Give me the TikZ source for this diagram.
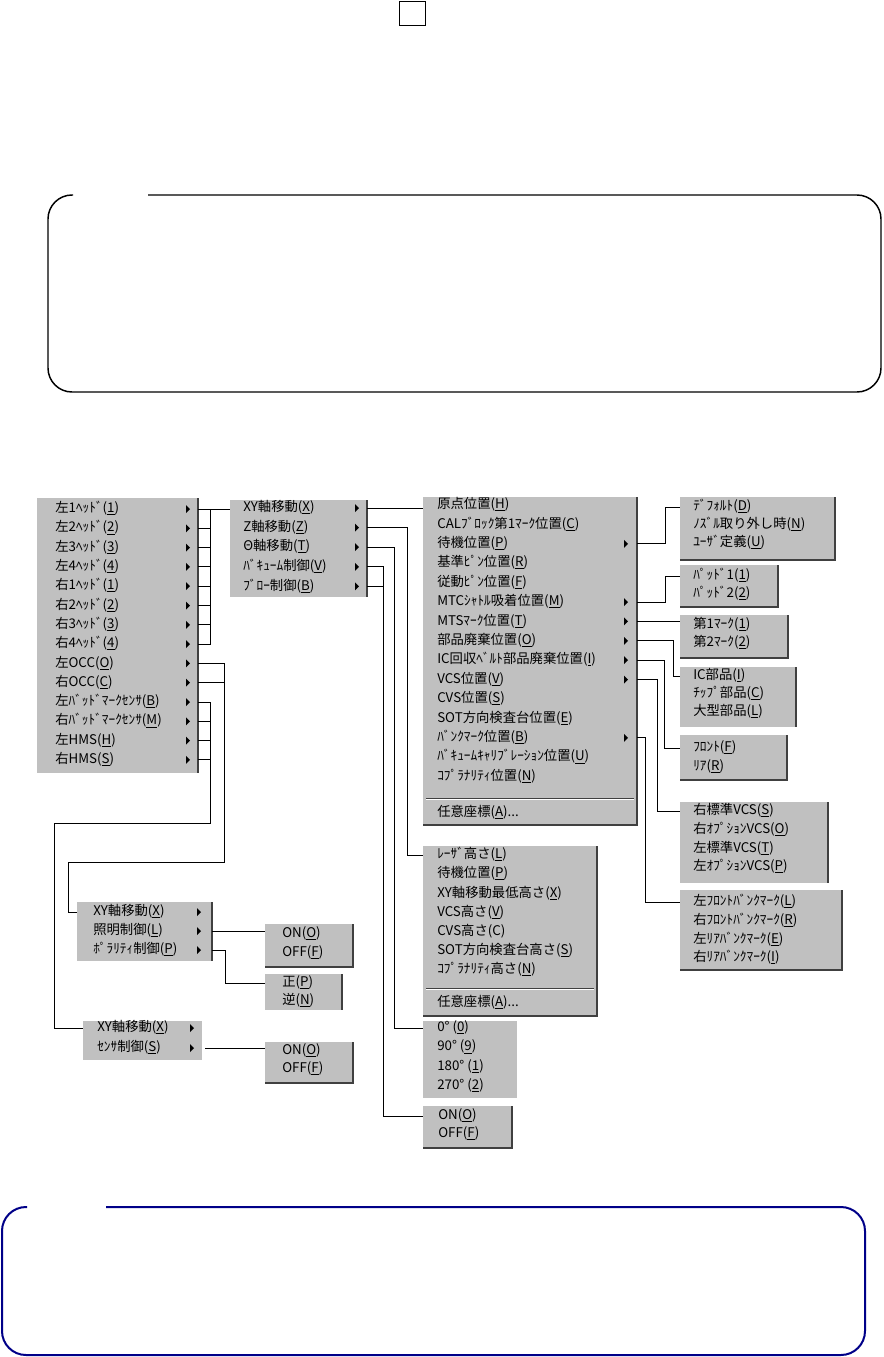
\documentclass[tikz,border=0pt]{standalone}
\usepackage{fontspec}
\newfontfamily\jpfont{Noto Sans CJK JP}
\usepackage{tikz}
\usetikzlibrary{positioning,fit,calc}
\definecolor{menugray}{RGB}{192,192,192}
\definecolor{menudark}{RGB}{64,64,64}
\definecolor{notenavy}{RGB}{0,0,136}

% menu panel from two corners, in pixels
\newcommand{\menubox}[5]{\node[menu, fit={(#2,#3) (#4,#5)}] (#1) {};}
\newcommand{\edgerb}[1]{\draw[edge] (#1.north east) -- (#1.south east) -- (#1.south west);}
\newcommand{\edger}[1]{\draw[edge] (#1.north east) -- (#1.south east);}
\newcommand{\subtri}[2]{\fill ({#1-2},{#2-4}) -- ++(0,8) -- ++(4,-4) -- cycle;}

\begin{document}
\begin{tikzpicture}[x=0.75pt,y=-0.75pt,
          menu/.style={fill=menugray,inner sep=0pt,outer sep=0pt},
          edge/.style={menudark,line width=1.4pt},
          item/.style={anchor=west,inner sep=0pt,text height=7.5pt,text depth=2pt,
                       font=\jpfont\fontsize{10}{12}\selectfont},
          wire/.style={black,line width=0.75pt},
          note/.style={line width=1.1pt,rounded corners=18pt},
        ]
        \useasboundingbox (0,0) rectangle (883,1357);

        % top mark and the two note frames
        \draw[line width=0.6pt] (399,1) rectangle (425,25);
        \draw[note] (148,195) -- (881,195) -- (881,392) -- (48,392) -- (48,195) -- (73,195);
        \draw[note,notenavy,line width=1.5pt] (106,1207) -- (865,1207) -- (865,1355) -- (2,1355) -- (2,1207) -- (27,1207);

        % panels
        \menubox{abox}{37}{498}{198}{773}
        \menubox{bbox}{230}{500}{367}{597}
        \menubox{cbox}{423}{497}{637}{825}
        \menubox{dbox}{423}{846}{597}{1016}
        \menubox{ebox}{423}{1021}{517}{1098}
        \menubox{fbox}{423}{1106}{512}{1148}
        \menubox{gbox}{680}{497}{835}{560}
        \menubox{hbox}{680}{565}{778}{607}
        \menubox{ibox}{680}{615}{788}{658}
        \menubox{jbox}{680}{667}{796}{727}
        \menubox{kbox}{680}{735}{787}{780}
        \menubox{lbox}{680}{802}{828}{883}
        \menubox{mbox}{680}{890}{842}{970}
        \menubox{nbox}{77}{902}{212}{961}
        \menubox{obox}{265}{924}{353}{967}
        \menubox{pbox}{265}{974}{342}{1010}
        \menubox{qbox}{83}{1021}{202}{1060}
        \menubox{rbox}{265}{1042}{353}{1083}
        \foreach \m in {cbox,dbox,fbox,gbox,hbox,ibox,kbox,mbox,obox,rbox} {\edgerb{\m}}
        \foreach \m in {abox,bbox,jbox,lbox,nbox,pbox} {\edger{\m}}
        \draw[menudark] (426,798) -- (634,798);
        \draw[white] (426,799.5) -- (634,799.5);
        \draw[menudark] (426,988) -- (594,988);
        \draw[white] (426,989.5) -- (594,989.5);

        % items
        \foreach \t [count=\i] in {左1ﾍｯﾄﾞ(\underline{1}),左2ﾍｯﾄﾞ(\underline{2}),左3ﾍｯﾄﾞ(\underline{3}),
            左4ﾍｯﾄﾞ(\underline{4}),右1ﾍｯﾄﾞ(\underline{1}),右2ﾍｯﾄﾞ(\underline{2}),右3ﾍｯﾄﾞ(\underline{3}),
            右4ﾍｯﾄﾞ(\underline{4}),左OCC(\underline{O}),右OCC(\underline{C}),左ﾊﾞｯﾄﾞﾏｰｸｾﾝｻ(\underline{B}),
            右ﾊﾞｯﾄﾞﾏｰｸｾﾝｻ(\underline{M}),左HMS(\underline{H}),右HMS(\underline{S})}
          {\node[item] (a\i) at (55,{509+19.3*(\i-1)}) {\t};
           \subtri{188}{509+19.3*(\i-1)}}
        \foreach \t [count=\i] in {XY軸移動(\underline{X}),Z軸移動(\underline{Z}),Θ軸移動(\underline{T}),
            ﾊﾞｷｭｰﾑ制御(\underline{V}),ﾌﾞﾛｰ制御(\underline{B})}
          {\node[item] (b\i) at (243,{508+19.6*(\i-1)}) {\t};
           \subtri{357}{508+19.6*(\i-1)}}
        \foreach \t [count=\i] in {原点位置(\underline{H}),CALﾌﾞﾛｯｸ第1ﾏｰｸ位置(\underline{C}),待機位置(\underline{P}),
            基準ﾋﾟﾝ位置(\underline{R}),従動ﾋﾟﾝ位置(\underline{F}),MTCｼｬﾄﾙ吸着位置(\underline{M}),
            MTSﾏｰｸ位置(\underline{T}),部品廃棄位置(\underline{O}),IC回収ﾍﾞﾙﾄ部品廃棄位置(\underline{I}),
            VCS位置(\underline{V}),CVS位置(\underline{S}),SOT方向検査台位置(\underline{E}),
            ﾊﾞﾝｸﾏｰｸ位置(\underline{B}),ﾊﾞｷｭｰﾑｷｬﾘﾌﾞﾚｰｼｮﾝ位置(\underline{U}),ｺﾌﾟﾗﾅﾘﾃｨ位置(\underline{N})}
          {\node[item] (c\i) at (437,{505+19.4*(\i-1)}) {\t};}
        \node[item] (cany) at (437,813) {任意座標(\underline{A})...};
        \foreach \i in {3,6,7,8,9,10,13} {\subtri{626}{505+19.4*(\i-1)}}
        \foreach \t [count=\i] in {ﾚｰｻﾞ高さ(\underline{L}),待機位置(\underline{P}),XY軸移動最低高さ(\underline{X}),
            VCS高さ(\underline{V}),CVS高さ(C),SOT方向検査台高さ(\underline{S}),ｺﾌﾟﾗﾅﾘﾃｨ高さ(\underline{N})}
          {\node[item] (d\i) at (437,{855+19.2*(\i-1)}) {\t};}
        \node[item] (dany) at (437,1003) {任意座標(\underline{A})...};
        \foreach \t [count=\i] in {0° (\underline{0}),90° (\underline{9}),180° (\underline{1}),270° (\underline{2})}
          {\node[item] (e\i) at (437,{1028+19.3*(\i-1)}) {\t};}
        \node[item] (f1) at (438,1116) {ON(\underline{O})};
        \node[item] (f2) at (438,1134) {OFF(\underline{F})};
        \foreach \t [count=\i] in {ﾃﾞﾌｫﾙﾄ(\underline{D}),ﾉｽﾞﾙ取り外し時(\underline{N}),ﾕｰｻﾞ定義(\underline{U})}
          {\node[item] (g\i) at (693,{507+18*(\i-1)}) {\t};}
        \node[item] (h1) at (693,576) {ﾊﾟｯﾄﾞ1(\underline{1})};
        \node[item] (h2) at (693,594) {ﾊﾟｯﾄﾞ2(\underline{2})};
        \node[item] (i1) at (693,625) {第1ﾏｰｸ(\underline{1})};
        \node[item] (i2) at (693,643) {第2ﾏｰｸ(\underline{2})};
        \foreach \t [count=\i] in {IC部品(\underline{I}),ﾁｯﾌﾟ部品(\underline{C}),大型部品(\underline{L})}
          {\node[item] (j\i) at (693,{676+18*(\i-1)}) {\t};}
        \node[item] (k1) at (693,748) {ﾌﾛﾝﾄ(\underline{F})};
        \node[item] (k2) at (693,767) {ﾘｱ(\underline{R})};
        \foreach \t [count=\i] in {右標準VCS(\underline{S}),右ｵﾌﾟｼｮﾝVCS(\underline{O}),
            左標準VCS(\underline{T}),左ｵﾌﾟｼｮﾝVCS(\underline{P})}
          {\node[item] (l\i) at (693,{811+18.7*(\i-1)}) {\t};}
        \foreach \t [count=\i] in {左ﾌﾛﾝﾄﾊﾞﾝｸﾏｰｸ(\underline{L}),右ﾌﾛﾝﾄﾊﾞﾝｸﾏｰｸ(\underline{R}),
            左ﾘｱﾊﾞﾝｸﾏｰｸ(\underline{E}),右ﾘｱﾊﾞﾝｸﾏｰｸ(\underline{I})}
          {\node[item] (m\i) at (693,{902+18.7*(\i-1)}) {\t};}
        \foreach \t [count=\i] in {XY軸移動(\underline{X}),照明制御(\underline{L}),ﾎﾟﾗﾘﾃｨ制御(\underline{P})}
          {\node[item] (n\i) at (93,{912+19*(\i-1)}) {\t};
           \subtri{199}{912+19*(\i-1)}}
        \node[item] (o1) at (282,934) {ON(\underline{O})};
        \node[item] (o2) at (282,953) {OFF(\underline{F})};
        \node[item] (p1) at (282,983) {正(\underline{P})};
        \node[item] (p2) at (282,1001) {逆(\underline{N})};
        \node[item] (q1) at (97,1028) {XY軸移動(\underline{X})};
        \node[item] (q2) at (97,1048) {ｾﾝｻ制御(\underline{S})};
        \subtri{192}{1028}
        \subtri{192}{1048}
        \node[item] (r1) at (282,1051) {ON(\underline{O})};
        \node[item] (r2) at (282,1069) {OFF(\underline{F})};

        % connectors
        \draw[wire] (abox.east |- a1) -- (bbox.west |- a1);
        \draw[wire] (abox.east |- a8) -| ($(abox.east |- a1)+(12,0)$);
        \foreach \i in {2,...,7} {\draw[wire] (abox.east |- a\i) -- ++(12,0);}
        \draw[wire] (abox.east |- a9) -| (224,862) -| ($(nbox.west |- n1)+(-9,0)$) -- (nbox.west |- n1);
        \draw[wire] (abox.east |- a10) -- ++(26,0);
        \draw[wire] (abox.east |- a11) -| (210,823) -| ($(qbox.west |- q1)+(-29,0)$) -- (qbox.west |- q1);
        \foreach \i in {12,13,14} {\draw[wire] (abox.east |- a\i) -- ++(12,0);}

        \draw[wire] (bbox.east |- b1) -- (cbox.west |- b1);
        \draw[wire] (bbox.east |- b2) -| ($(dbox.west |- d1)+(-16,0)$) -- (dbox.west |- d1);
        \draw[wire] (bbox.east |- b3) -| ($(ebox.west |- e1)+(-29,0)$) -- (ebox.west |- e1);
        \draw[wire] (bbox.east |- b4) -| ($(fbox.west |- f1)+(-40,0)$) -- (fbox.west |- f1);
        \draw[wire] (bbox.east |- b5) -- ++(16,0);

        \draw[wire] (cbox.east |- c3) -| ($(gbox.west |- g1)+(-15,0)$) -- (gbox.west |- g1);
        \draw[wire] (cbox.east |- c6) -| ($(hbox.west |- h1)+(-15,0)$) -- (hbox.west |- h1);
        \draw[wire] (cbox.east |- c7) -- (ibox.west |- c7);
        \draw[wire] (cbox.east |- c8) -| ($(jbox.west |- j1)+(-7,0)$) -- (jbox.west |- j1);
        \draw[wire] (cbox.east |- c9) -| ($(kbox.west |- k1)+(-16,0)$) -- (kbox.west |- k1);
        \draw[wire] (cbox.east |- c10) -| ($(lbox.west |- l1)+(-23,0)$) -- (lbox.west |- l1);
        \draw[wire] (cbox.east |- c13) -| ($(mbox.west |- m1)+(-35,0)$) -- (mbox.west |- m1);

        \draw[wire] (nbox.east |- n2) -- (obox.west |- n2);
        \draw[wire] (nbox.east |- n3) -| ($(pbox.west |- p1)+(-40,0)$) -- (pbox.west |- p1);
        \draw[wire] ($(qbox.east |- q2)+(3,0)$) -- (rbox.west |- q2);
      \end{tikzpicture}
\end{document}
